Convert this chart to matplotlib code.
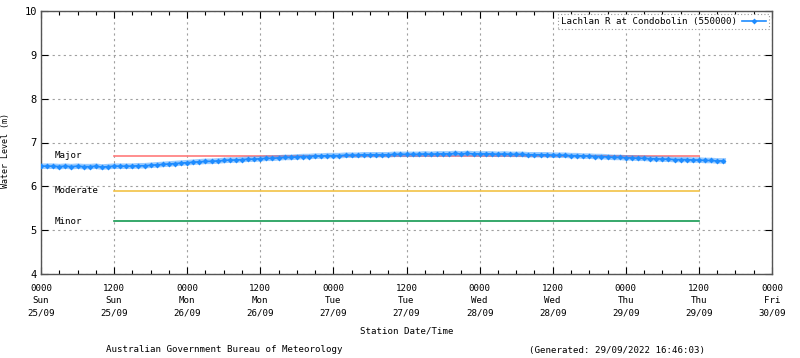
import matplotlib
matplotlib.use('Agg')
import matplotlib.pyplot as plt
import numpy as np

# hourly water level readings from 0000 Sun 25/09 (hours since start)
levels = [
    6.46, 6.46, 6.46, 6.45, 6.46, 6.45, 6.46, 6.45, 6.45, 6.46, 6.44, 6.45, 6.46,
    6.46, 6.46, 6.46, 6.47, 6.47, 6.48, 6.49, 6.50, 6.51, 6.52, 6.53, 6.54,
    6.55, 6.56, 6.57, 6.57, 6.58, 6.59, 6.60, 6.60, 6.61, 6.62, 6.62, 6.63,
    6.64, 6.64, 6.65, 6.66, 6.66, 6.67, 6.68, 6.68, 6.69, 6.69, 6.70, 6.70,
    6.70, 6.71, 6.71, 6.71, 6.72, 6.72, 6.72, 6.72, 6.72, 6.73, 6.73, 6.73,
    6.73, 6.73, 6.74, 6.73, 6.74, 6.74, 6.74, 6.75, 6.74, 6.75, 6.74, 6.74,
    6.74, 6.74, 6.73, 6.74, 6.73, 6.73, 6.73, 6.72, 6.72, 6.72, 6.72, 6.71,
    6.71, 6.71, 6.70, 6.70, 6.69, 6.69, 6.68, 6.68, 6.67, 6.66, 6.66, 6.65,
    6.65, 6.64, 6.64, 6.63, 6.63, 6.62, 6.62, 6.61, 6.61, 6.61, 6.60, 6.60,
    6.59, 6.59, 6.58, 6.58,
]
hours = np.arange(len(levels))

# flood classification levels
class_names = ['Major', 'Moderate', 'Minor']
class_levels = [6.7, 5.9, 5.2]
class_colors = ['#ff7a7a', '#f2c246', '#149a52']
class_start, class_end = 12, 108

tick_times = ['0000', '1200'] * 5 + ['0000']
tick_days = ['Sun', 'Sun', 'Mon', 'Mon', 'Tue', 'Tue', 'Wed', 'Wed', 'Thu', 'Thu', 'Fri']
tick_dates = ['25/09', '25/09', '26/09', '26/09', '27/09', '27/09',
              '28/09', '28/09', '29/09', '29/09', '30/09']

plt.rcParams['font.family'] = 'DejaVu Sans Mono'
plt.rcParams['font.size'] = 6.6

fig = plt.figure(figsize=(8, 3.58), dpi=100)
ax = fig.add_axes([41 / 800, 1 - 274 / 358, 731 / 800, 263 / 358])

for name, lvl, col in zip(class_names, class_levels, class_colors):
    ax.plot([class_start, class_end], [lvl, lvl], color=col, lw=1.2, zorder=2)
    ax.text(2.3, lvl, name, ha='left', va='center')

ax.plot(hours, levels, color='#1e8cff', lw=4, alpha=0.45, zorder=3)
ax.plot(hours, levels, color='#1e8cff', lw=1.2, marker='D', ms=3,
        markeredgewidth=0, zorder=4, label='Lachlan R at Condobolin (550000)')

ax.set_xlim(0, 120)
ax.set_ylim(4, 10)
ax.set_xticks(np.arange(0, 121, 12))
ax.set_xticks(np.arange(0, 121, 3), minor=True)
ax.set_xticklabels([f'{t}\n{d}\n{dt}' for t, d, dt in zip(tick_times, tick_days, tick_dates)],
                   linespacing=1.45)
ax.set_yticks(range(4, 11))

ax.tick_params(axis='both', which='major', direction='in', length=5, width=0.8,
               right=True, top=True, pad=7)
ax.tick_params(axis='x', which='minor', direction='in', length=3, width=0.8, top=True)
ax.tick_params(axis='y', pad=3, labelsize=7.5)

ax.grid(True, which='major', color='#a0a0a0', linestyle=(0, (2, 3)), lw=0.8)
for s in ax.spines.values():
    s.set_color('#555555')
    s.set_linewidth(1)

ax.set_xlabel('Station Date/Time')
ax.xaxis.set_label_coords(0.5, (274 - 327) / 263)
ax.set_ylabel('Water Level (m)', fontsize=6)
ax.yaxis.set_label_coords(-31 / 731, (274 - 151) / 263)

leg = ax.legend(loc='upper right', markerfirst=False, handlelength=2.6,
                handletextpad=0.6, borderpad=0.35, borderaxespad=0.3,
                fancybox=False, framealpha=1)
leg.get_frame().set_edgecolor('#999999')
leg.get_frame().set_linestyle((0, (1, 2)))
leg.get_frame().set_linewidth(0.8)

fig.text(224 / 800, 1 - 350 / 358, 'Australian Government Bureau of Meteorology',
         ha='center', va='center')
fig.text(617 / 800, 1 - 350 / 358, '(Generated: 29/09/2022 16:46:03)',
         ha='center', va='center')

fig.savefig('out.png', dpi=100)
